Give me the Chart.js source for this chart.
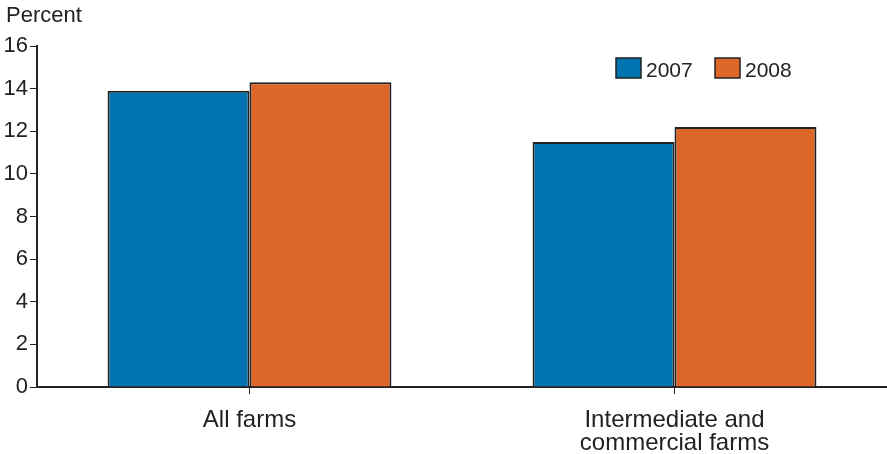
<!DOCTYPE html>
<html>
<head>
<meta charset="utf-8">
<script src="https://cdn.jsdelivr.net/npm/chart.js@4/dist/chart.umd.min.js"></script>
<style>
  html, body { margin: 0; padding: 0; background: #fff; }
  #wrap { width: 887px; height: 454px; position: relative; }
</style>
</head>
<body>
<div id="wrap"><canvas id="c"></canvas></div>
<script>
const categories = [["All farms"], ["Intermediate and", "commercial farms"]];
const seriesNames = ["2007", "2008"];
const values2007 = [13.9, 11.5];
const values2008 = [14.3, 12.2];
const yTicks = [0, 2, 4, 6, 8, 10, 12, 14, 16];
const yTitle = "Percent";
const colors = ["#0073b0", "#dd6629"];

const FONT = "'Liberation Sans', Arial, Helvetica, sans-serif";

const extras = {
  id: 'extras',
  afterDraw(chart) {
    const ctx = chart.ctx;
    ctx.save();
    ctx.fillStyle = '#222';
    ctx.font = '22px ' + FONT;
    ctx.textBaseline = 'alphabetic';
    ctx.textAlign = 'left';
    ctx.fillText(yTitle, 6, 22);
    // legend
    ctx.font = '21px ' + FONT;
    const legendPos = [616, 715];
    chart.data.datasets.forEach((ds, i) => {
      const x = legendPos[i];
      ctx.fillStyle = ds.backgroundColor;
      ctx.fillRect(x, 58, 25, 20);
      ctx.strokeStyle = '#222';
      ctx.lineWidth = 1.5;
      ctx.strokeRect(x, 58, 25, 20);
      ctx.fillStyle = '#222';
      ctx.fillText(ds.label, x + 30, 77);
    });
    ctx.restore();
  }
};

new Chart(document.getElementById('c'), {
  type: 'bar',
  data: {
    labels: categories,
    datasets: [
      { label: seriesNames[0], data: values2007, backgroundColor: colors[0], borderColor: '#222', borderWidth: 2, borderSkipped: 'bottom' },
      { label: seriesNames[1], data: values2008, backgroundColor: colors[1], borderColor: '#222', borderWidth: 2, borderSkipped: 'bottom' }
    ]
  },
  options: {
    responsive: true,
    maintainAspectRatio: false,
    animation: false,
    layout: { padding: { top: 46, right: 0, left: 0, bottom: 0 } },
    plugins: { legend: { display: false }, tooltip: { enabled: false } },
    datasets: { bar: { categoryPercentage: 0.668, barPercentage: 1.0 } },
    scales: {
      x: {
        offset: true,
        grid: { offset: false, drawOnChartArea: false, drawTicks: true, tickLength: 7, color: '#222', lineWidth: 1 },
        border: { display: true, color: '#222', width: 2 },
        ticks: { color: '#222', font: { family: FONT, size: 24, lineHeight: '23px' }, padding: 15, maxRotation: 0, autoSkip: false },
        afterFit(s) { s.height = 67; }
      },
      y: {
        min: 0, max: 16,
        afterBuildTicks(s) { s.ticks = yTicks.map(v => ({ value: v })); },
        grid: { drawOnChartArea: false, drawTicks: true, tickLength: 7, color: '#222', lineWidth: 1 },
        border: { display: true, color: '#222', width: 2 },
        ticks: { color: '#222', font: { family: FONT, size: 22 }, padding: 2 },
        afterFit(s) { s.width = 37; }
      }
    }
  },
  plugins: [extras]
});
</script>
</body>
</html>
